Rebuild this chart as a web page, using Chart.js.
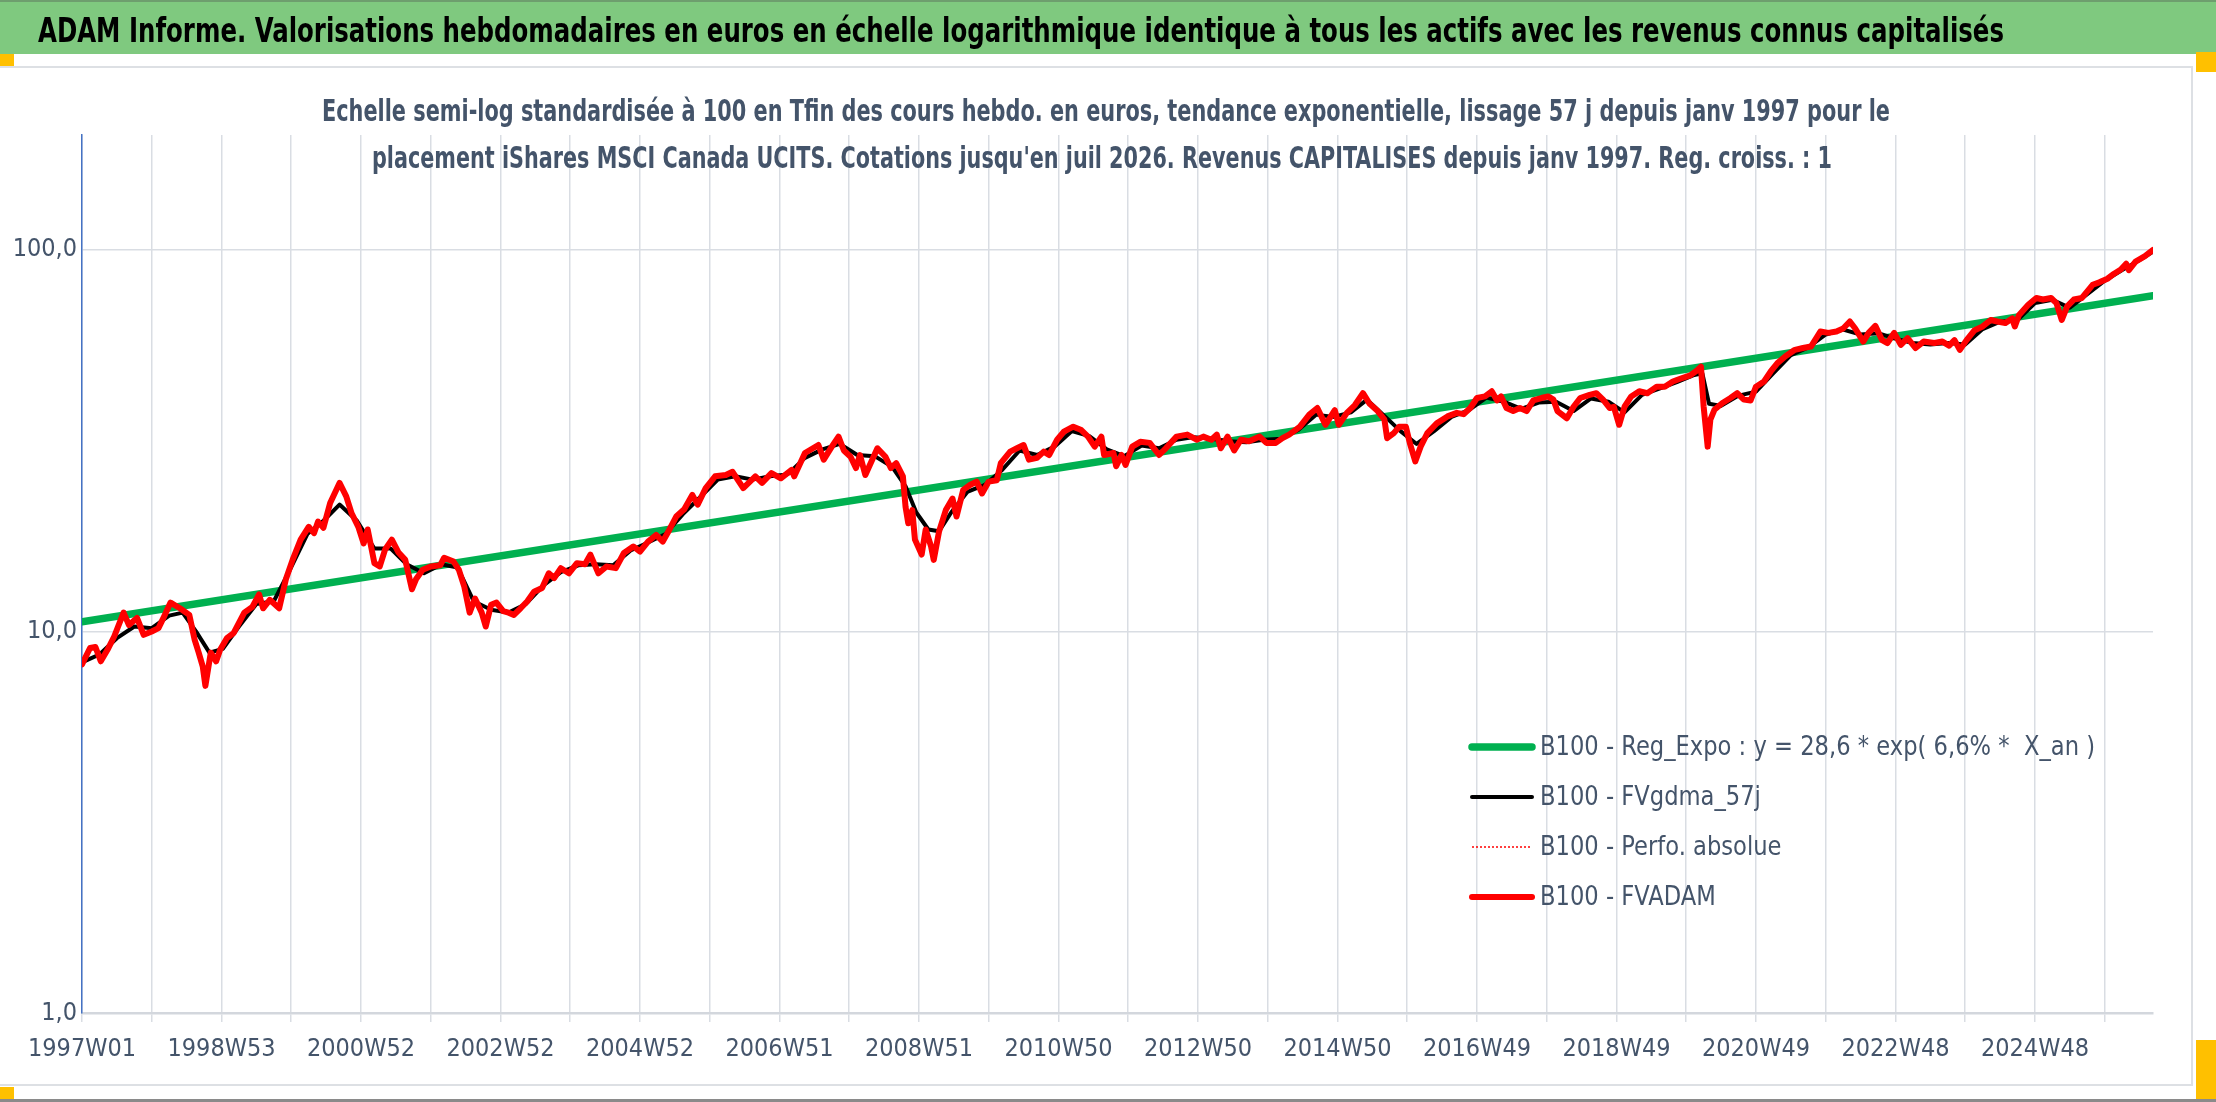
<!DOCTYPE html>
<html>
<head>
<meta charset="utf-8">
<script src="https://cdn.jsdelivr.net/npm/chart.js@4.4.1/dist/chart.umd.min.js"></script>
<style>
html,body{margin:0;padding:0;background:#fff;}
#wrap{position:relative;width:2216px;height:1102px;overflow:hidden;background:#fff;}
#header{position:absolute;left:0;top:0;width:2216px;height:54px;background:#7fc97f;border-top:2px solid #6e9e6e;box-sizing:border-box;}
#frame{position:absolute;left:0;top:66px;width:2193px;height:1020px;border:2px solid #dde0e4;border-left:none;box-sizing:border-box;}
#bottomline{position:absolute;left:0;top:1099px;width:2216px;height:3px;background:#8a8a8a;}
.handle{position:absolute;background:#ffc000;}
canvas{position:absolute;left:0;top:0;}
</style>
</head>
<body>
<div id="wrap">
  <div id="header"></div>
  <div id="frame"></div>
  <div id="bottomline"></div>
  <div class="handle" style="left:0;top:54px;width:14px;height:12px"></div>
  <div class="handle" style="left:2196px;top:52px;width:20px;height:20px"></div>
  <div class="handle" style="left:0;top:1087px;width:14px;height:12px"></div>
  <div class="handle" style="left:2196px;top:1040px;width:20px;height:59px"></div>
  <canvas id="chart" width="2216" height="1102"></canvas>
</div>
<script>
// weekly index: 0 = 1997W01, last = juil 2026
const lastWeek=1544;
const xTickLabels=['1997W01','1998W53','2000W52','2002W52','2004W52','2006W51','2008W51','2010W50','2012W50','2014W50','2016W49','2018W49','2020W49','2022W48','2024W48'];
const yTickValues=[1,10,100];
const yTickLabels=['1,0','10,0','100,0'];

// B100 - FVADAM
const adamWeeks=[0,6,10,14,19,24,31,35,41,46,52,57,61,66,73,80,84,87,90,92,96,100,103,108,113,121,127,132,135,140,147,152,157,163,169,173,176,180,185,192,197,201,206,210,213,218,222,226,231,236,241,246,249,254,260,267,270,277,281,285,289,293,298,301,305,309,314,318,322,327,332,337,343,348,352,357,363,369,375,379,385,391,398,404,411,416,422,428,433,438,443,449,455,459,465,472,480,485,493,502,507,514,521,529,531,539,549,553,559,564,568,573,577,580,584,593,599,603,607,612,614,616,619,621,626,629,633,635,639,644,649,652,657,662,667,671,676,682,685,692,697,702,706,712,717,721,727,732,739,745,750,755,760,762,769,771,775,778,783,789,796,803,808,816,824,831,836,842,846,849,854,859,864,870,878,883,890,895,900,908,915,921,927,934,937,943,949,955,960,966,971,973,978,982,987,990,994,998,1003,1010,1018,1025,1030,1035,1040,1046,1051,1055,1058,1062,1067,1072,1077,1082,1088,1093,1097,1100,1107,1112,1117,1124,1129,1134,1139,1142,1146,1150,1155,1161,1167,1174,1180,1186,1192,1199,1204,1207,1209,1212,1214,1217,1223,1229,1234,1239,1244,1248,1254,1259,1264,1270,1277,1283,1289,1296,1302,1308,1313,1318,1322,1328,1332,1337,1342,1346,1351,1356,1361,1367,1373,1381,1387,1392,1396,1400,1405,1411,1417,1423,1428,1434,1439,1441,1444,1451,1457,1462,1468,1472,1476,1480,1485,1491,1499,1504,1510,1515,1520,1524,1526,1531,1538,1544];
const adamValues=[8.2,9.05,9.1,8.35,8.95,9.7,11.2,10.4,10.85,9.8,10.0,10.2,10.9,11.9,11.5,11.05,9.5,8.8,8.1,7.2,8.8,8.35,8.95,9.6,9.9,11.2,11.6,12.5,11.5,12.1,11.5,13.7,15.4,17.4,18.8,18.1,19.4,18.7,21.7,24.5,22.6,20.4,18.8,17.0,18.5,15.1,14.8,16.4,17.4,16.1,15.4,12.9,13.7,14.5,14.8,14.9,15.6,15.25,14.5,13.1,11.2,12.2,11.2,10.3,11.75,11.9,11.3,11.2,11.05,11.5,12.0,12.7,13.0,14.2,13.8,14.65,14.2,15.1,15.0,15.9,14.2,14.8,14.65,16.05,16.7,16.2,17.2,17.9,17.2,18.5,20.0,20.9,22.8,21.5,23.75,25.5,25.7,26.2,23.75,25.5,24.5,26.0,25.2,26.5,25.5,29.35,30.8,28.2,30.5,32.4,29.8,28.7,26.8,29.0,25.7,30.2,28.7,26.8,27.6,25.5,21.2,19.2,20.8,17.4,15.9,18.5,16.7,15.4,18.3,20.8,22.3,20.0,23.5,24.2,24.7,23.0,24.7,24.9,27.6,29.6,30.2,30.8,28.2,28.5,29.6,29.0,31.8,33.4,34.4,33.7,32.4,30.5,32.4,29.0,29.35,27.1,29.0,27.3,30.5,31.4,31.2,29.0,30.2,32.4,32.8,31.8,32.4,31.8,32.8,30.2,32.4,29.8,31.8,31.5,32.4,31.2,31.2,32.1,32.8,34.4,37.0,38.5,34.8,38.0,34.8,37.4,39.2,42.1,39.5,37.8,35.9,32.1,33.1,34.4,34.4,31.1,27.9,30.5,33.1,35.1,36.6,37.4,37.1,38.5,40.9,41.3,42.6,40.3,41.3,38.5,37.8,38.5,37.8,40.3,40.9,41.3,40.5,37.8,36.2,38.8,40.9,41.7,42.1,40.5,38.5,38.8,34.8,38.8,41.3,42.6,42.1,43.8,43.8,45.2,46.0,46.9,48.3,49.4,38.8,30.5,35.9,38.1,39.7,40.9,42.1,40.5,40.3,43.8,45.2,48.0,50.5,52.6,54.7,55.3,55.8,61.1,60.6,61.1,62.2,64.9,62.2,57.5,60.6,63.2,58.0,57.0,60.6,56.4,58.7,55.3,57.5,57.0,57.5,56.1,58.0,54.7,58.0,61.6,63.0,65.5,64.9,64.3,66.1,63.0,67.4,71.8,74.8,74.1,74.8,72.5,65.5,71.1,74.1,74.8,81.0,82.2,84.0,86.6,88.8,92.0,88.5,93.2,96.3,100.0];
// B100 - Perfo. absolue : same path as FVADAM, hidden under it
const perfoValues=adamValues.slice();

// B100 - FVgdma_57j (smoothed line)
const gdmaWeeks=[0,13,26,39,52,65,75,85,95,105,117,130,143,155,168,180,192,205,218,230,242,255,268,280,292,305,318,331,344,357,370,383,396,409,422,435,448,461,474,487,500,513,526,539,552,565,578,591,604,614,622,631,639,648,660,673,686,699,712,725,738,751,764,777,790,803,816,829,842,855,868,881,894,907,920,933,946,958,970,983,995,1008,1021,1034,1047,1060,1073,1086,1099,1112,1125,1138,1150,1163,1176,1189,1202,1208,1213,1222,1235,1248,1261,1274,1287,1300,1313,1326,1339,1352,1365,1378,1391,1404,1417,1430,1443,1456,1469,1482,1495,1508,1521,1534,1544];
const gdmaValues=[8.3,8.7,9.6,10.3,10.2,11.0,11.2,10.0,8.8,9.0,10.3,11.8,12.0,14.5,18.0,19.5,21.5,19.5,16.5,16.5,15.0,14.2,15.0,14.7,12.0,11.4,11.2,11.8,13.2,14.3,14.9,15.0,14.9,16.3,17.1,18.0,20.3,22.5,25.0,25.5,25.0,25.5,25.8,28.5,30.0,31.0,29.0,28.8,27.0,24.0,20.5,18.5,18.3,20.5,23.2,24.2,26.5,29.8,29.0,30.5,33.5,32.5,30.0,28.8,30.7,30.2,31.8,32.3,32.0,31.5,31.3,31.8,32.0,33.8,37.0,36.5,37.5,40.5,37.0,33.5,31.0,33.5,36.5,38.0,41.0,40.0,38.3,39.8,40.0,37.8,40.8,40.0,37.5,41.7,43.3,45.0,47.0,47.5,39.5,39.0,41.5,42.5,47.5,53.0,55.5,60.0,61.8,60.0,60.5,58.5,57.0,56.5,57.0,56.5,62.0,64.8,65.5,72.5,74.0,70.5,76.5,83.0,88.5,94.0,99.0];

// B100 - Reg_Expo : straight on the log scale, end points only
const trendWeeks=[0,1544];
const trendValues=[10.6,75.8];

const FONT='"Liberation Sans Narrow","DejaVu Sans Condensed","Noto Sans",sans-serif';
const TXT='#44546A';
const GRID='#D9DDE3';

function pts(ws,vs){return ws.map((w,i)=>({x:w,y:vs[i]}));}

const gridWeeks=[];
for(let w=0;w<=lastWeek;w+=52) gridWeeks.push(w);

function fitText(ctx,text,x,y,w){
  const m=ctx.measureText(text).width;
  ctx.save();
  ctx.translate(x,y);
  ctx.scale(w/m,1);
  ctx.textAlign='left';
  ctx.fillText(text,0,0);
  ctx.restore();
}

const textPlugin={
  id:'texts',
  afterDraw(chart){
    const ctx=chart.ctx;
    ctx.save();
    ctx.textBaseline='alphabetic';
    ctx.fillStyle='#000';
    ctx.font='bold 33px '+FONT;
    fitText(ctx,'ADAM Informe. Valorisations hebdomadaires en euros en échelle logarithmique identique à tous les actifs avec les revenus connus capitalisés',38,42,1966);
    ctx.fillStyle=TXT;
    ctx.font='bold 30px '+FONT;
    fitText(ctx,'Echelle semi-log standardisée à 100 en Tfin des cours hebdo. en euros, tendance exponentielle, lissage 57 j depuis janv 1997 pour le',322,121,1568);
    fitText(ctx,"placement iShares MSCI Canada UCITS. Cotations jusqu'en juil 2026. Revenus CAPITALISES depuis janv 1997. Reg. croiss. : 1",372,168,1460);

    // legend
    const order=[3,2,1,0];
    const rows=[747,797,847,897];
    ctx.font='27px '+FONT;
    ctx.textBaseline='middle';
    const k=555/ctx.measureText(chart.data.datasets[3].label).width;
    order.forEach((di,r)=>{
      const ds=chart.data.datasets[di];
      const y=rows[r];
      ctx.save();
      ctx.strokeStyle=ds.borderColor;
      ctx.lineWidth=ds.borderWidth;
      ctx.lineCap=ds.borderDash?'butt':'round';
      ctx.setLineDash(ds.borderDash||[]);
      ctx.beginPath();ctx.moveTo(1472,y);ctx.lineTo(1532,y);ctx.stroke();
      ctx.restore();
      ctx.save();
      ctx.translate(1540,y+1);ctx.scale(k,1);
      ctx.fillStyle=TXT;ctx.textAlign='left';
      ctx.fillText(ds.label,0,0);
      ctx.restore();
    });
    ctx.restore();
  }
};

new Chart(document.getElementById('chart'),{
  type:'line',
  data:{datasets:[
    {label:'B100 - FVADAM',data:pts(adamWeeks,adamValues),borderColor:'#FF0000',borderWidth:6,order:0},
    {label:'B100 - Perfo. absolue',data:pts(adamWeeks,perfoValues),borderColor:'#FF0000',borderWidth:1.5,borderDash:[2,2],order:1},
    {label:'B100 - FVgdma_57j',data:pts(gdmaWeeks,gdmaValues),borderColor:'#000000',borderWidth:4,order:2},
    {label:'B100 - Reg_Expo : y = 28,6 * exp( 6,6% *  X_an )',data:pts(trendWeeks,trendValues),borderColor:'#00B050',borderWidth:7.5,order:3}
  ]},
  options:{
    responsive:false,
    devicePixelRatio:1,
    animation:false,
    layout:{padding:{top:135,left:0,right:63,bottom:29}},
    elements:{point:{radius:0},line:{tension:0,borderJoinStyle:'round',borderCapStyle:'round'}},
    plugins:{legend:{display:false},title:{display:false},tooltip:{enabled:false}},
    scales:{
      x:{type:'linear',min:0,max:lastWeek,
        afterBuildTicks:s=>{s.ticks=gridWeeks.map(v=>({value:v}));},
        afterFit:s=>{s.height=60;},
        grid:{color:GRID,lineWidth:1.5,drawTicks:true,tickLength:9,tickColor:GRID},
        border:{color:'#D3D7DD',width:2.5},
        ticks:{autoSkip:false,maxRotation:0,minRotation:0,padding:12,color:TXT,font:{family:FONT,size:25},
          callback:v=>(v%104===0?xTickLabels[v/104]:'')}
      },
      y:{type:'logarithmic',min:1,max:200,
        afterBuildTicks:s=>{s.ticks=yTickValues.map(v=>({value:v}));},
        afterFit:s=>{s.width=82;},
        grid:{color:GRID,lineWidth:1.5,drawTicks:false},
        border:{color:'#4472C4',width:1.5},
        ticks:{padding:5,color:TXT,font:{family:FONT,size:25},callback:(v,i)=>yTickLabels[i]}
      }
    }
  },
  plugins:[textPlugin]
});
</script>
</body>
</html>
